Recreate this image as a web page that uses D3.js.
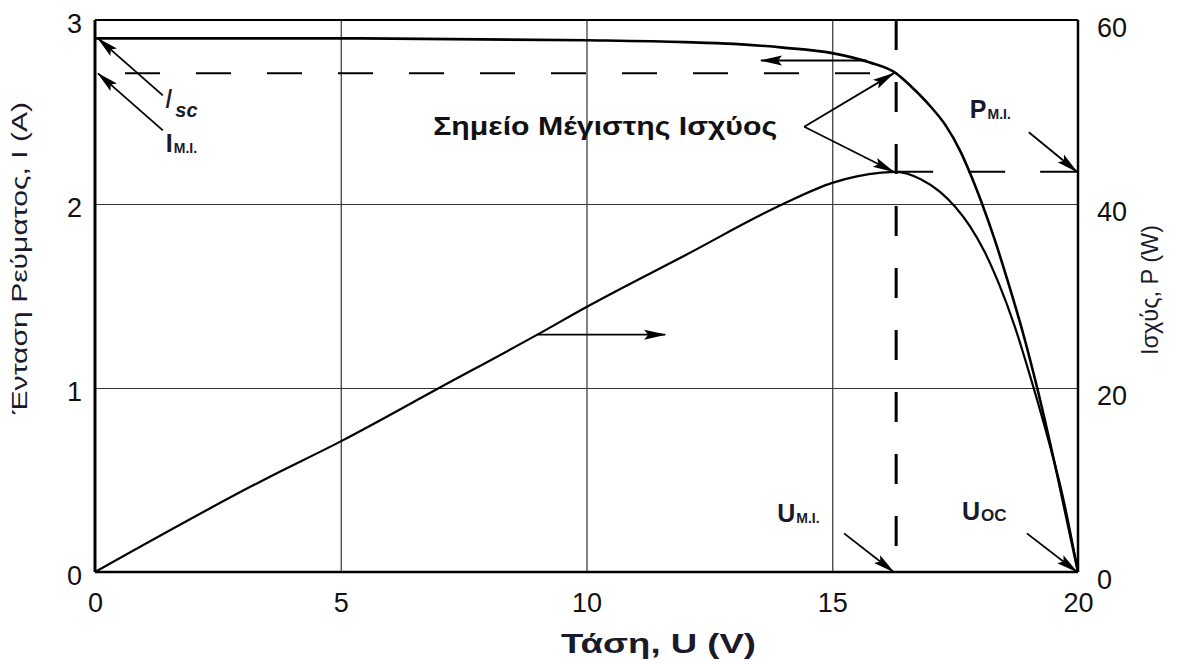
<!DOCTYPE html>
<html>
<head>
<meta charset="utf-8">
<script src="https://cdn.jsdelivr.net/npm/d3@7/dist/d3.min.js"></script>
<style>
body{margin:0;background:#fff;}
svg{display:block;font-family:"Liberation Sans",Arial,sans-serif;}
</style>
</head>
<body>
<div id="chartHolder"></div>
<script>
// I-U curve of the module (volts, amps)
const ivVolts = [0, 5, 10, 12, 13, 14, 15, 15.75, 16.3, 16.6, 17, 17.3, 17.6, 17.8, 18.05, 18.3, 18.56, 18.9, 19.17, 19.6, 20];
const ivAmps  = [2.9, 2.9, 2.89, 2.88, 2.87, 2.85, 2.82, 2.77, 2.71, 2.64, 2.53, 2.43, 2.29, 2.17, 2.0, 1.81, 1.59, 1.28, 1.0, 0.5, 0];
// P-U curve (volts, watts)
const pvVolts = [0, 3.5, 5, 7, 9, 10, 12, 14, 15, 15.5, 16, 16.3, 16.8, 17.2, 17.5, 17.8, 18.1, 18.4, 18.7, 19.07, 19.4, 19.7, 20];
const pvWatts = [0, 10.2, 14.2, 20, 25.8, 28.8, 34.4, 40, 42.3, 43.0, 43.4, 43.5, 42.7, 41.3, 39.7, 37.6, 34.8, 31.2, 26.9, 20.5, 14.3, 8.0, 0];

const uTicks = [0, 5, 10, 15, 20];
const iTicks = [0, 1, 2, 3];
const pTicks = [0, 20, 40, 60];

// maximum power point
const mppVolt = 16.3;
const mppAmp = 2.71;
const mppWatt = 43.5;
const iscAmp = 2.9;
const uocVolt = 20;

function GetChart(){
    const width = 1183;
    const height = 664;
    const left = 95, right = 1078, top = 20, bottom = 572;

    const svg = d3.select("#chartHolder")
        .append("svg")
        .attr("width", width)
        .attr("height", height);

    const x = d3.scaleLinear().domain([0, 20]).range([left, right]);
    const y = d3.scaleLinear().domain([0, 3]).range([bottom, top]);
    const yP = d3.scaleLinear().domain([0, 60]).range([bottom, top]);

    // arrow head
    svg.append("defs").append("marker")
        .attr("id", "head")
        .attr("viewBox", "0 -6 22 12")
        .attr("refX", 21).attr("refY", 0)
        .attr("markerWidth", 22).attr("markerHeight", 12)
        .attr("markerUnits", "userSpaceOnUse")
        .attr("orient", "auto")
        .append("path")
        .attr("d", "M0,-5L22,0L0,5L4,0Z")
        .attr("fill", "#000");

    //grid
    svg.append("g")
        .attr("transform", `translate(0,${bottom})`)
        .call(d3.axisBottom(x).tickValues([5, 10, 15]).tickSize(-(bottom - top)).tickFormat(""))
        .call(g => g.select(".domain").remove())
        .selectAll("line").attr("stroke", "#333").attr("stroke-width", 1.2);
    svg.append("g")
        .attr("transform", `translate(${left},0)`)
        .call(d3.axisLeft(y).tickValues([1, 2]).tickSize(-(right - left)).tickFormat(""))
        .call(g => g.select(".domain").remove())
        .selectAll("line").attr("stroke", "#333").attr("stroke-width", 1.2);

    //frame
    const frame = svg.append("g").attr("stroke", "#000");
    frame.append("line").attr("x1", left).attr("x2", right).attr("y1", top).attr("y2", top).attr("stroke-width", 2);
    frame.append("line").attr("x1", left).attr("x2", right).attr("y1", bottom).attr("y2", bottom).attr("stroke-width", 2.5);
    frame.append("line").attr("x1", left).attr("x2", left).attr("y1", top).attr("y2", bottom).attr("stroke-width", 3);
    frame.append("line").attr("x1", right).attr("x2", right).attr("y1", top).attr("y2", bottom).attr("stroke-width", 2.5);

    // axes labels
    const tickFont = g => g.selectAll("text")
        .style("font-size", "27px")
        .style("font-family", "'Liberation Sans', Arial, sans-serif")
        .attr("fill", "#111");
    svg.append("g")
        .attr("transform", `translate(0,${bottom})`)
        .call(d3.axisBottom(x).tickValues(uTicks).tickSize(0).tickPadding(21).tickFormat(d3.format("d")))
        .call(g => g.select(".domain").remove())
        .call(tickFont);
    svg.append("g")
        .attr("transform", `translate(${left},0)`)
        .call(d3.axisLeft(y).tickValues(iTicks).tickSize(0).tickPadding(13).tickFormat(d3.format("d")))
        .call(g => g.select(".domain").remove())
        .call(tickFont)
        .selectAll("text").attr("dy", "0.46em");
    svg.append("g")
        .attr("transform", `translate(${right},0)`)
        .call(d3.axisRight(yP).tickValues(pTicks).tickSize(0).tickPadding(19).tickFormat(d3.format("d")))
        .call(g => g.select(".domain").remove())
        .call(tickFont)
        .selectAll("text").attr("dy", "0.6em");

    svg.append("text")
        .attr("x", (left + right) / 2 + 72).attr("y", 653)
        .attr("text-anchor", "middle")
        .attr("textLength", 195).attr("lengthAdjust", "spacingAndGlyphs")
        .style("font-size", "27px").style("font-weight", "bold")
        .attr("fill", "#1a1a2a")
        .text("Τάση, U (V)");
    svg.append("text")
        .attr("transform", "translate(27,258) rotate(-90)")
        .attr("text-anchor", "middle")
        .attr("textLength", 312).attr("lengthAdjust", "spacingAndGlyphs")
        .style("font-size", "22px")
        .attr("fill", "#1a1a2a")
        .text("Ένταση Ρεύματος, Ι (A)");
    svg.append("text")
        .attr("transform", "translate(1158,290) rotate(-90)")
        .attr("text-anchor", "middle")
        .attr("textLength", 130).attr("lengthAdjust", "spacingAndGlyphs")
        .style("font-size", "24px")
        .attr("fill", "#1a1a2a")
        .text("Ισχύς, P (W)");

    // dashed guides at the maximum power point
    const dash = svg.append("g").attr("stroke", "#000").attr("fill", "none");
    dash.append("line")
        .attr("x1", x(0)).attr("x2", x(mppVolt))
        .attr("y1", y(mppAmp)).attr("y2", y(mppAmp))
        .attr("stroke-width", 2).attr("stroke-dasharray", "35,36").attr("stroke-dashoffset", -30);
    dash.append("line")
        .attr("x1", x(mppVolt)).attr("x2", x(mppVolt))
        .attr("y1", y(3)).attr("y2", y(0))
        .attr("stroke-width", 3).attr("stroke-dasharray", "30,32");
    dash.append("line")
        .attr("x1", x(mppVolt)).attr("x2", x(uocVolt))
        .attr("y1", yP(mppWatt)).attr("y2", yP(mppWatt))
        .attr("stroke-width", 2).attr("stroke-dasharray", "37,35");

    // curves
    const ivLine = d3.line()
        .x((d, i) => x(ivVolts[i]))
        .y(d => y(d))
        .curve(d3.curveMonotoneX);
    svg.append("path")
        .datum(ivAmps)
        .attr("d", ivLine)
        .attr("fill", "none").attr("stroke", "#000").attr("stroke-width", 2.6);
    const pvLine = d3.line()
        .x((d, i) => x(pvVolts[i]))
        .y(d => yP(d))
        .curve(d3.curveMonotoneX);
    svg.append("path")
        .datum(pvWatts)
        .attr("d", pvLine)
        .attr("fill", "none").attr("stroke", "#000").attr("stroke-width", 2.2);

    // annotation arrows [u1, i1, u2, i2] in chart units (I scale)
    const arrows = [
        [1.38, 2.59, 0.06, iscAmp],
        [1.38, 2.40, 0.06, mppAmp],
        [15.7, 2.78, 13.55, 2.78],
        [9.0, 25.8 / 20, 11.6, 25.8 / 20],
        [14.43, 2.42, mppVolt - 0.05, mppAmp],
        [14.43, 2.42, mppVolt - 0.05, mppWatt / 20],
        [19.0, 2.39, 19.98, mppWatt / 20],
        [15.24, 0.21, mppVolt - 0.05, 0],
        [18.96, 0.21, uocVolt - 0.02, 0]
    ];
    svg.append("g")
        .selectAll("line")
        .data(arrows)
        .enter()
        .append("line")
        .attr("x1", d => x(d[0])).attr("y1", d => y(d[1]))
        .attr("x2", d => x(d[2])).attr("y2", d => y(d[3]))
        .attr("stroke", "#000").attr("stroke-width", 1.8)
        .attr("marker-end", "url(#head)");

    svg.append("text")
        .attr("x", x(13.88)).attr("y", y(2.375))
        .attr("text-anchor", "end")
        .attr("textLength", 344).attr("lengthAdjust", "spacingAndGlyphs")
        .style("font-size", "26px").style("font-weight", "bold")
        .attr("fill", "#111")
        .text("Σημείο Μέγιστης Ισχύος");

    // labels with subscripts [u, i, main, sub, italic]
    const labels = [
        [1.42, 2.52, "I", "sc", true],
        [1.44, 2.28, "I", "M.I.", false],
        [17.8, 2.47, "P", "M.I.", false],
        [13.88, 0.27, "U", "M.I.", false],
        [17.64, 0.28, "U", "OC", false]
    ];
    const lab = svg.append("g")
        .selectAll("text")
        .data(labels)
        .enter()
        .append("text")
        .attr("x", d => x(d[0])).attr("y", d => y(d[1]))
        .attr("fill", "#1a1a2a")
        .style("font-weight", "bold")
        .style("font-style", d => d[4] ? "italic" : "normal");
    lab.append("tspan")
        .style("font-size", d => d[4] ? "27px" : "25px")
        .style("font-weight", d => d[4] ? "normal" : "bold")
        .text(d => d[2]);
    lab.append("tspan")
        .attr("dx", d => d[4] ? 3 : 1)
        .attr("dy", d => d[4] ? 9 : 1)
        .style("font-size", d => d[3] === "OC" ? "17px" : (d[4] ? "20px" : "14px"))
        .text(d => d[3]);
}
GetChart();
</script>
</body>
</html>
